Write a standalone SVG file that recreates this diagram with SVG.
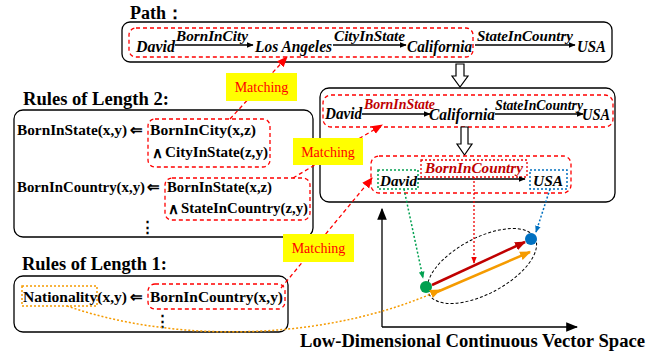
<svg xmlns="http://www.w3.org/2000/svg" width="665" height="356" viewBox="0 0 665 356">
<defs>
<style>
.box{fill:#fff;stroke:#000;stroke-width:1.3}
.rd{fill:none;stroke:#f00;stroke-width:1.3;stroke-dasharray:4,3}
.rdot{fill:none;stroke:#e00;stroke-width:1.3;stroke-dasharray:2,2}
.gdot{fill:none;stroke:#00a050;stroke-width:1.5;stroke-dasharray:2,2}
.bdot{fill:none;stroke:#0070c0;stroke-width:1.5;stroke-dasharray:2,2}
.odot{fill:none;stroke:#f59b00;stroke-width:1.5;stroke-dasharray:2,2}
.t{font-family:"Liberation Serif","Times New Roman",serif;font-weight:bold;fill:#000}
.ti{font-family:"Liberation Serif","Times New Roman",serif;font-weight:bold;font-style:italic;fill:#000}
.title{font-size:18px}
.rule{font-size:15px}
.pi{font-size:16px}
.lbl{font-size:14px}
.red{fill:#c00000}
.m{font-family:"Liberation Serif","Times New Roman",serif;font-size:14px;fill:#f00}
.yel{fill:#ffff00}
.ln{stroke:#000;stroke-width:1.3;fill:none}
</style>
<marker id="ah" viewBox="0 0 10 10" refX="9" refY="5" markerWidth="7" markerHeight="7" orient="auto" markerUnits="userSpaceOnUse"><path d="M0,1 L10,5 L0,9 z" fill="#000"/></marker>
<marker id="ahr" viewBox="0 0 10 10" refX="9" refY="5" markerWidth="11" markerHeight="11" orient="auto" markerUnits="userSpaceOnUse"><path d="M0,1 L10,5 L0,9 z" fill="#f00"/></marker>
<marker id="ahdr" viewBox="0 0 10 10" refX="9" refY="5" markerWidth="11" markerHeight="11" orient="auto" markerUnits="userSpaceOnUse"><path d="M0,1 L10,5 L0,9 z" fill="#c00000"/></marker>
<marker id="aho" viewBox="0 0 10 10" refX="9" refY="5" markerWidth="11" markerHeight="11" orient="auto" markerUnits="userSpaceOnUse"><path d="M0,1 L10,5 L0,9 z" fill="#f59b00"/></marker>
<marker id="ahg" viewBox="0 0 10 10" refX="9" refY="5" markerWidth="7" markerHeight="7" orient="auto" markerUnits="userSpaceOnUse"><path d="M0,1 L10,5 L0,9 z" fill="#00a050"/></marker>
<marker id="ahb" viewBox="0 0 10 10" refX="9" refY="5" markerWidth="7" markerHeight="7" orient="auto" markerUnits="userSpaceOnUse"><path d="M0,1 L10,5 L0,9 z" fill="#0070c0"/></marker>
<marker id="ahrd" viewBox="0 0 10 10" refX="9" refY="5" markerWidth="7" markerHeight="7" orient="auto" markerUnits="userSpaceOnUse"><path d="M0,1 L10,5 L0,9 z" fill="#e00"/></marker>
<marker id="ahk" viewBox="0 0 10 10" refX="9" refY="5" markerWidth="12" markerHeight="12" orient="auto" markerUnits="userSpaceOnUse"><path d="M0,1 L10,5 L0,9 z" fill="#000"/></marker>
</defs>

<g id="path-node">
<text class="t title" x="130" y="19">Path：</text>
<rect class="box" x="122" y="22" width="490" height="40" rx="8"/>
<rect class="rd" x="129" y="28" width="344" height="29" rx="7"/>
<text class="ti pi" x="136" y="52" textLength="39" lengthAdjust="spacingAndGlyphs">David</text>
<text class="ti lbl" x="176" y="41" textLength="72" lengthAdjust="spacingAndGlyphs">BornInCity</text>
<line class="ln" x1="175" y1="45" x2="253" y2="45" marker-end="url(#ah)"/>
<text class="ti pi" x="255" y="52" textLength="77" lengthAdjust="spacingAndGlyphs">Los Angeles</text>
<text class="ti lbl" x="334" y="41" textLength="71" lengthAdjust="spacingAndGlyphs">CityInState</text>
<line class="ln" x1="333" y1="45" x2="406" y2="45" marker-end="url(#ah)"/>
<text class="ti pi" x="407" y="52" textLength="65" lengthAdjust="spacingAndGlyphs">California</text>
<text class="ti lbl" x="477" y="41" textLength="96" lengthAdjust="spacingAndGlyphs">StateInCountry</text>
<line class="ln" x1="475" y1="45" x2="575" y2="45" marker-end="url(#ah)"/>
<text class="ti pi" x="577" y="52" textLength="29" lengthAdjust="spacingAndGlyphs">USA</text>
</g>

<g id="down-arrow-1">
<path d="M456,64 L464,64 L464,76 L468,76 L460,87 L452,76 L456,76 Z" fill="#fff" stroke="#000" stroke-width="1.2"/>
</g>

<g id="inferred-node">
<rect class="box" x="320" y="88" width="295" height="114" rx="9"/>
<rect class="rd" x="323" y="95" width="290" height="32" rx="8"/>
<text class="ti pi" x="325" y="119" textLength="37" lengthAdjust="spacingAndGlyphs">David</text>
<text class="ti lbl red" x="364" y="109" textLength="71" lengthAdjust="spacingAndGlyphs">BornInState</text>
<line class="ln" x1="362" y1="114" x2="430" y2="114" marker-end="url(#ah)"/>
<text class="ti pi" x="429" y="120" textLength="66" lengthAdjust="spacingAndGlyphs">California</text>
<text class="ti lbl" x="495" y="110" textLength="88" lengthAdjust="spacingAndGlyphs">StateInCountry</text>
<line class="ln" x1="495" y1="114" x2="583" y2="114" marker-end="url(#ah)"/>
<text class="ti pi" x="582" y="120" textLength="28" lengthAdjust="spacingAndGlyphs">USA</text>
<path d="M461,127 L468,127 L468,144 L472,144 L464.5,155 L457,144 L461,144 Z" fill="#fff" stroke="#000" stroke-width="1.2"/>
<rect class="rd" x="371" y="156" width="200" height="37" rx="8"/>
<rect class="rdot" x="421" y="160" width="106" height="17"/>
<text class="ti lbl red" x="425" y="173" textLength="98" lengthAdjust="spacingAndGlyphs">BornInCountry</text>
<rect class="gdot" x="378" y="170" width="40" height="19"/>
<text class="ti lbl" x="380" y="186" textLength="37" lengthAdjust="spacingAndGlyphs">David</text>
<line class="ln" x1="418" y1="179" x2="525" y2="179" marker-end="url(#ah)"/>
<rect class="bdot" x="530" y="170" width="37" height="19"/>
<text class="ti lbl" x="533" y="186" textLength="30" lengthAdjust="spacingAndGlyphs">USA</text>
</g>

<g id="rules2-node">
<text class="t title" x="23" y="105" textLength="146" lengthAdjust="spacingAndGlyphs">Rules of Length 2:</text>
<rect class="box" x="14" y="110" width="299" height="127" rx="9"/>
<rect class="rd" x="148" y="119" width="122" height="48" rx="7"/>
<text class="t rule" x="17" y="135" textLength="110" lengthAdjust="spacingAndGlyphs">BornInState(x,y)</text>
<text class="t rule" x="130" y="135">⇐</text>
<text class="t rule" x="150" y="135" textLength="106" lengthAdjust="spacingAndGlyphs">BornInCity(x,z)</text>
<text class="t rule" x="152" y="158">∧</text>
<text class="t rule" x="165" y="157" textLength="103" lengthAdjust="spacingAndGlyphs">CityInState(z,y)</text>
<rect class="rd" x="165" y="178" width="145" height="42" rx="7"/>
<text class="t rule" x="17" y="192" textLength="128" lengthAdjust="spacingAndGlyphs">BornInCountry(x,y)</text>
<text class="t rule" x="147" y="192">⇐</text>
<text class="t rule" x="167" y="192" textLength="105" lengthAdjust="spacingAndGlyphs">BornInState(x,z)</text>
<text class="t rule" x="168" y="214">∧</text>
<text class="t rule" x="181" y="213" textLength="127" lengthAdjust="spacingAndGlyphs">StateInCountry(z,y)</text>
<text class="t rule" x="140" y="232">⋮</text>
</g>

<g id="rules1-node">
<text class="t title" x="22" y="270" textLength="145" lengthAdjust="spacingAndGlyphs">Rules of Length 1:</text>
<rect class="box" x="14" y="276" width="274" height="56" rx="9"/>
<rect class="odot" x="22" y="286" width="75" height="20"/>
<rect class="rd" x="148" y="284" width="137" height="25" rx="7"/>
<text class="t rule" x="23" y="302" textLength="104" lengthAdjust="spacingAndGlyphs">Nationality(x,y)</text>
<text class="t rule" x="130" y="302">⇐</text>
<text class="t rule" x="150" y="302" textLength="133" lengthAdjust="spacingAndGlyphs">BornInCountry(x,y)</text>
<text class="t rule" x="155" y="326">⋮</text>
</g>

<g id="vector-space">
<line class="ln" x1="382" y1="327" x2="382" y2="209" marker-end="url(#ahk)"/>
<line class="ln" x1="382" y1="327" x2="577" y2="327" marker-end="url(#ahk)"/>
<ellipse cx="482" cy="266" rx="60" ry="28" transform="rotate(-28 482 266)" fill="none" stroke="#000" stroke-width="1" stroke-dasharray="3,2"/>
<line x1="432" y1="285" x2="525" y2="242" stroke="#c00000" stroke-width="2.5" marker-end="url(#ahdr)"/>
<line x1="437" y1="292" x2="530" y2="252" stroke="#f59b00" stroke-width="2.5" marker-end="url(#aho)"/>
<circle cx="426" cy="287" r="6" fill="#00a050"/>
<circle cx="531" cy="239" r="6" fill="#0070c0"/>
<text class="t title" x="300" y="347" textLength="345" lengthAdjust="spacingAndGlyphs">Low-Dimensional Continuous Vector Space</text>
</g>

<g id="connectors">
<line x1="404" y1="189" x2="423" y2="278" class="gdot" marker-end="url(#ahg)"/>
<line x1="474" y1="177" x2="474" y2="263" class="rdot" marker-end="url(#ahrd)"/>
<line x1="550" y1="189" x2="536" y2="232" class="bdot" marker-end="url(#ahb)"/>
<path d="M67,306 C180,345 330,340 440,290" class="odot" marker-end="url(#aho)"/>
<line x1="230" y1="119" x2="287" y2="57" class="rd" marker-end="url(#ahr)"/>
<line x1="293" y1="178" x2="382" y2="125" class="rd" marker-end="url(#ahr)"/>
<line x1="281" y1="288" x2="372" y2="178" class="rd" marker-end="url(#ahr)"/>
</g>

<g id="matching-1">
<rect class="yel" x="226" y="73" width="71" height="28"/>
<text class="m" x="261.5" y="92" text-anchor="middle">Matching</text>
</g>
<g id="matching-2">
<rect class="yel" x="293" y="138" width="70" height="27"/>
<text class="m" x="328" y="157" text-anchor="middle">Matching</text>
</g>
<g id="matching-3">
<rect class="yel" x="283" y="234" width="71" height="28"/>
<text class="m" x="318.5" y="253" text-anchor="middle">Matching</text>
</g>
</svg>
